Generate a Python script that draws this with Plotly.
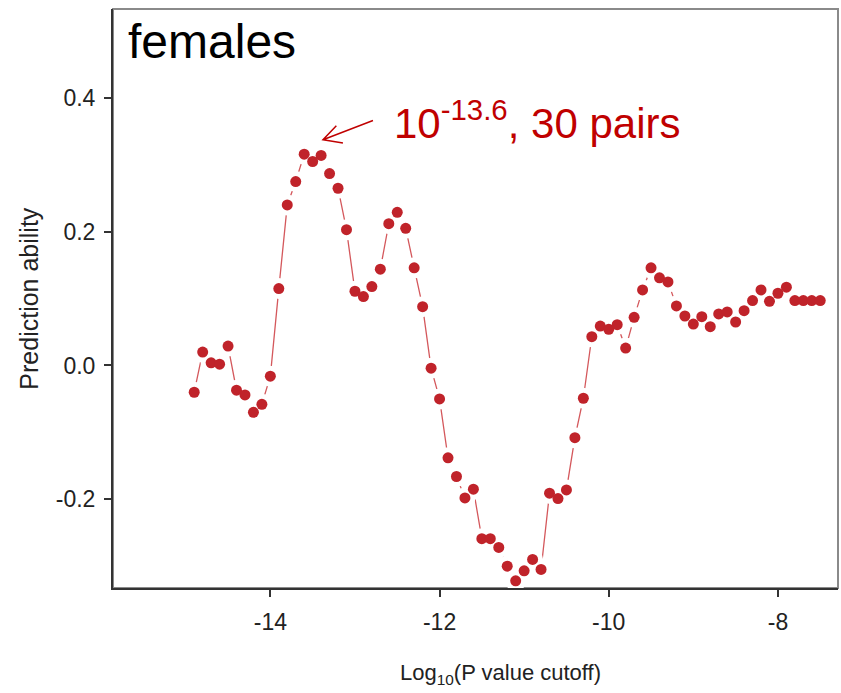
import plotly.graph_objects as go

# Log10(P value cutoff)
log_p_cutoff = [-14.9, -14.8, -14.7, -14.6, -14.5, -14.4, -14.3, -14.2, -14.1, -14.0,
                -13.9, -13.8, -13.7, -13.6, -13.5, -13.4, -13.3, -13.2, -13.1, -13.0,
                -12.9, -12.8, -12.7, -12.6, -12.5, -12.4, -12.3, -12.2, -12.1, -12.0,
                -11.9, -11.8, -11.7, -11.6, -11.5, -11.4, -11.3, -11.2, -11.1, -11.0,
                -10.9, -10.8, -10.7, -10.6, -10.5, -10.4, -10.3, -10.2, -10.1, -10.0,
                -9.9, -9.8, -9.7, -9.6, -9.5, -9.4, -9.3, -9.2, -9.1, -9.0,
                -8.9, -8.8, -8.7, -8.6, -8.5, -8.4, -8.3, -8.2, -8.1, -8.0,
                -7.9, -7.8, -7.7, -7.6, -7.5]

# Prediction ability (females)
prediction_ability = [-0.040, 0.020, 0.004, 0.002, 0.029, -0.037, -0.044, -0.070, -0.058, -0.016,
                      0.115, 0.240, 0.275, 0.316, 0.305, 0.314, 0.287, 0.265, 0.203, 0.111,
                      0.103, 0.118, 0.144, 0.212, 0.229, 0.205, 0.146, 0.088, -0.004, -0.050,
                      -0.138, -0.166, -0.198, -0.185, -0.259, -0.259, -0.272, -0.300, -0.322, -0.307,
                      -0.290, -0.305, -0.191, -0.199, -0.186, -0.108, -0.049, 0.043, 0.059, 0.054,
                      0.061, 0.026, 0.072, 0.113, 0.146, 0.131, 0.125, 0.089, 0.074, 0.062,
                      0.073, 0.058, 0.077, 0.080, 0.065, 0.082, 0.097, 0.113, 0.096, 0.108,
                      0.117, 0.097, 0.097, 0.097, 0.097]

x_tick_vals = [-14, -12, -10, -8]
x_tick_text = ["-14", "-12", "-10", "-8"]
y_tick_vals = [0.4, 0.2, 0.0, -0.2]
y_tick_text = ["0.4", "0.2", "0.0", "-0.2"]

FONT = "Liberation Sans, Arial, sans-serif"
RED = "#c0232a"

fig = go.Figure()
# connecting line
fig.add_trace(go.Scatter(x=log_p_cutoff, y=prediction_ability, mode="lines",
                         line=dict(color="#d4585c", width=1.3), hoverinfo="skip",
                         showlegend=False))
# white halo to create gaps like R type="b"
fig.add_trace(go.Scatter(x=log_p_cutoff, y=prediction_ability, mode="markers",
                         marker=dict(color="white", size=21, line=dict(width=0)),
                         hoverinfo="skip", showlegend=False))
# points
fig.add_trace(go.Scatter(x=log_p_cutoff, y=prediction_ability, mode="markers",
                         marker=dict(color=RED, size=11, line=dict(width=0)),
                         showlegend=False))

fig.update_layout(
    width=841, height=693,
    margin=dict(l=113, r=3, t=9, b=105),
    paper_bgcolor="white", plot_bgcolor="white",
    font=dict(family=FONT, color="#222"),
    xaxis=dict(range=[-15.86, -7.29], tickvals=x_tick_vals, ticktext=x_tick_text,
               showgrid=False, zeroline=False, showline=True, linecolor="#333",
               linewidth=2, ticks="outside", ticklen=7, tickcolor="#333", tickwidth=1.5,
               tickfont=dict(size=23, color="#222"), ticklabelstandoff=5, mirror=False),
    yaxis=dict(range=[-0.3327, 0.533], tickvals=y_tick_vals, ticktext=y_tick_text,
               showgrid=False, zeroline=False, showline=True, linecolor="#333",
               linewidth=2, ticks="outside", ticklen=7, tickcolor="#333", tickwidth=1.5,
               tickfont=dict(size=23, color="#222"), ticklabelstandoff=4),
    shapes=[
        dict(type="rect", xref="paper", yref="paper", x0=0, y0=0, x1=1, y1=1,
             line=dict(color="#8a8a8a", width=2), layer="below"),
        dict(type="path", xref="x", yref="y",
             path="M -12.787,0.3664 L -13.378,0.3376 M -13.22,0.3585 L -13.378,0.3376 L -13.142,0.3326",
             line=dict(color="#c00000", width=1.5)),
    ],
    annotations=[
        dict(text="females", xref="paper", yref="paper", x=0.018, y=1.0,
             xanchor="left", yanchor="top", showarrow=False, yshift=-4,
             font=dict(size=48, color="black", family=FONT)),
        dict(text="10<sup>-13.6</sup>, 30 pairs", xref="x", yref="y", x=-12.56, y=0.363,
             xanchor="left", yanchor="middle", showarrow=False, yshift=3,
             font=dict(size=42, color="#c00000", family=FONT)),
        dict(text="Prediction ability", xref="paper", yref="paper", x=-0.117, y=0.5,
             xanchor="center", yanchor="middle", textangle=-90, showarrow=False,
             font=dict(size=25, color="#222", family=FONT)),
        dict(text="Log<sub>10</sub>(P value cutoff)", xref="paper", yref="paper",
             x=0.535, y=-0.148, xanchor="center", yanchor="middle", showarrow=False,
             font=dict(size=22, color="#222", family=FONT)),
    ],
)

fig.write_html("out.html")
